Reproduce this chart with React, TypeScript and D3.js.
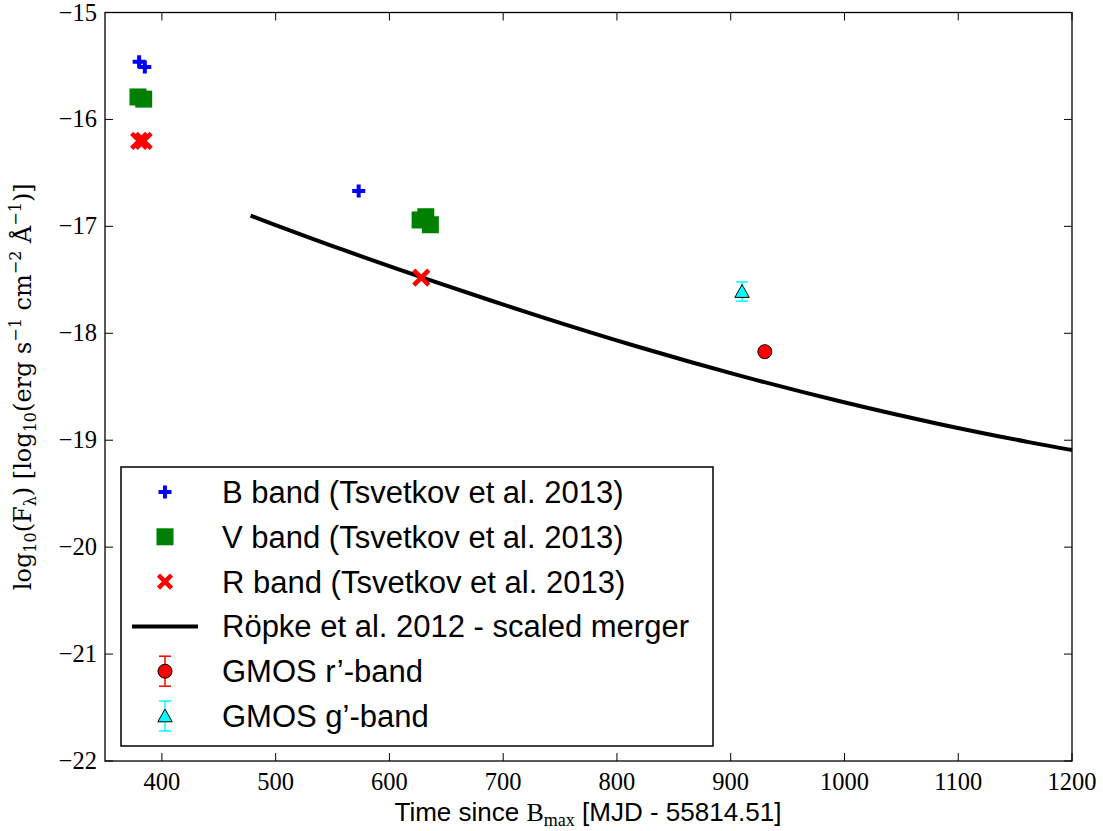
import React from "react";
import * as d3 from "d3";

const bBand = [
  { t: 380, f: -15.46 },
  { t: 385, f: -15.51 },
  { t: 573, f: -16.67 },
];
const vBand = [
  { t: 379, f: -15.79 },
  { t: 384, f: -15.81 },
  { t: 627, f: -16.94 },
  { t: 632, f: -16.91 },
  { t: 636, f: -16.985 },
];
const rBand = [
  { t: 380, f: -16.2 },
  { t: 384, f: -16.2 },
  { t: 628, f: -17.48 },
];
const mergerT = [478, 557, 644, 732, 820, 908, 996, 1084, 1172, 1200];
const mergerF = [-16.9, -17.215, -17.535, -17.845, -18.135, -18.4, -18.64, -18.855, -19.04, -19.092];
const gmosR = [{ t: 930, f: -18.172, err: 0.03 }];
const gmosG = [{ t: 910, f: -17.61, err: 0.09 }];
const xTicks = [400, 500, 600, 700, 800, 900, 1000, 1100, 1200];
const yTicks = [-15, -16, -17, -18, -19, -20, -21, -22];
const legendLabels = [
  "B band (Tsvetkov et al. 2013)",
  "V band (Tsvetkov et al. 2013)",
  "R band (Tsvetkov et al. 2013)",
  "Röpke et al. 2012 - scaled merger",
  "GMOS r’-band",
  "GMOS g’-band",
];

const L = 105, R = 1072, T = 12.5, B = 761;
const SANS = "'Liberation Sans', Arial, Helvetica, sans-serif";
const SERIF = "'Liberation Serif', 'Times New Roman', serif";
const WSERIF = "'DejaVu Serif', serif";

const x = d3.scaleLinear().domain([350, 1200]).range([L, R]);
const y = d3.scaleLinear().domain([-15, -22]).range([T, B]);

const plusPath = (s: number) => `M${-s},0H${s}M0,${-s}V${s}`;
const crossPath = (s: number) => `M${-s},${-s}L${s},${s}M${-s},${s}L${s},${-s}`;
const triPath = (s: number) => `M0,${-s}L${s * 0.9},${s * 0.6}L${-s * 0.9},${s * 0.6}Z`;

function Plus({ cx, cy }: { cx: number; cy: number }) {
  return <path d={plusPath(6.5)} transform={`translate(${cx},${cy})`} stroke="#0000ff" strokeWidth={4} fill="none" />;
}
function Square({ cx, cy, s }: { cx: number; cy: number; s: number }) {
  return <rect x={cx - s / 2} y={cy - s / 2} width={s} height={s} fill="#008000" />;
}
function Cross({ cx, cy, s }: { cx: number; cy: number; s: number }) {
  return <path d={crossPath(s)} transform={`translate(${cx},${cy})`} stroke="#ff0000" strokeWidth={4.5} fill="none" />;
}
function Circ({ cx, cy }: { cx: number; cy: number }) {
  return <circle cx={cx} cy={cy} r={7} fill="#ff0000" stroke="#000" strokeWidth={1} />;
}
function Tri({ cx, cy }: { cx: number; cy: number }) {
  return <path d={triPath(8)} transform={`translate(${cx},${cy + 1})`} fill="#00ffff" stroke="#000" strokeWidth={1} />;
}
function ErrBar({ cx, y1, y2, color }: { cx: number; y1: number; y2: number; color: string }) {
  return (
    <g stroke={color} strokeWidth={1.5}>
      <line x1={cx} x2={cx} y1={y1} y2={y2} />
      <line x1={cx - 6} x2={cx + 6} y1={y1} y2={y1} />
      <line x1={cx - 6} x2={cx + 6} y1={y2} y2={y2} />
    </g>
  );
}

export default function App() {
  const line = d3
    .line<number>()
    .x((_, i) => x(mergerT[i]))
    .y((d) => y(d))
    .curve(d3.curveBasis);

  const legX = 121, legY = 467, legW = 592, legH = 279;
  const rowY = (i: number) => 492 + i * 44.8;
  const mX = 165;

  return (
    <svg width={1103} height={831} style={{ position: "absolute", left: 0, top: 0, background: "#fff" }}>
      <rect x={0} y={0} width={1103} height={831} fill="#fff" />
      <path d={line(mergerF) || ""} fill="none" stroke="#000" strokeWidth={4} />
      {vBand.map((d, i) => (
        <Square key={"v" + i} cx={x(d.t)} cy={y(d.f)} s={17} />
      ))}
      {bBand.map((d, i) => (
        <Plus key={"b" + i} cx={x(d.t)} cy={y(d.f)} />
      ))}
      {rBand.map((d, i) => (
        <Cross key={"r" + i} cx={x(d.t)} cy={y(d.f)} s={7.5} />
      ))}
      {gmosR.map((d, i) => (
        <g key={"gr" + i}>
          <ErrBar cx={x(d.t)} y1={y(d.f + d.err)} y2={y(d.f - d.err)} color="#ff0000" />
          <Circ cx={x(d.t)} cy={y(d.f)} />
        </g>
      ))}
      {gmosG.map((d, i) => (
        <g key={"gg" + i}>
          <ErrBar cx={x(d.t)} y1={y(d.f + d.err)} y2={y(d.f - d.err)} color="#00ffff" />
          <Tri cx={x(d.t)} cy={y(d.f)} />
        </g>
      ))}

      <rect x={L} y={T} width={R - L} height={B - T} fill="none" stroke="#000" strokeWidth={1.3} />
      {xTicks.map((t) => (
        <g key={"xt" + t}>
          <line x1={x(t)} x2={x(t)} y1={B} y2={B - 8} stroke="#000" strokeWidth={1} />
          <line x1={x(t)} x2={x(t)} y1={T} y2={T + 8} stroke="#000" strokeWidth={1} />
          <text x={x(t)} y={790} textAnchor="middle" fontFamily={SERIF} fontSize={24.5} fill="#000">
            {t}
          </text>
        </g>
      ))}
      {yTicks.map((t) => (
        <g key={"yt" + t}>
          <line x1={L} x2={L + 8} y1={y(t)} y2={y(t)} stroke="#000" strokeWidth={1} />
          <line x1={R} x2={R - 8} y1={y(t)} y2={y(t)} stroke="#000" strokeWidth={1} />
          <text x={97} y={y(t) + 8} textAnchor="end" fontFamily={SERIF} fontSize={24.5} fill="#000">
            {"\u2212" + Math.abs(t)}
          </text>
        </g>
      ))}

      <text x={588} y={821} textAnchor="middle" fontFamily={SANS} fontSize={26} fill="#000">
        Time since{" "}
        <tspan fontFamily={SERIF}>B</tspan>
        <tspan fontFamily={SERIF} fontSize={18} dy={5}>max</tspan>
        <tspan dy={-5}> [MJD - 55814.51]</tspan>
      </text>

      <text
        transform={`translate(31,${(T + B) / 2}) rotate(-90)`}
        textAnchor="middle"
        fontFamily={WSERIF}
        fontSize={24}
        fill="#000"
      >
        log<tspan fontSize={16} dy={5}>10</tspan>
        <tspan dy={-5}>(F</tspan>
        <tspan fontSize={16} dy={5}>λ</tspan>
        <tspan dy={-5}>) [log</tspan>
        <tspan fontSize={16} dy={5}>10</tspan>
        <tspan dy={-5}>(erg s</tspan>
        <tspan fontSize={16} dy={-10}>−1</tspan>
        <tspan dy={10}> cm</tspan>
        <tspan fontSize={16} dy={-10}>−2</tspan>
        <tspan dy={10}> Å</tspan>
        <tspan fontSize={16} dy={-10}>−1</tspan>
        <tspan dy={10}>)]</tspan>
      </text>

      <rect x={legX} y={legY} width={legW} height={legH} fill="#fff" stroke="#000" strokeWidth={1.5} />
      <Plus cx={mX} cy={rowY(0)} />
      <Square cx={mX} cy={rowY(1)} s={17} />
      <Cross cx={mX} cy={rowY(2)} s={6.5} />
      <line x1={132} x2={198} y1={rowY(3)} y2={rowY(3)} stroke="#000" strokeWidth={4} />
      <ErrBar cx={mX} y1={rowY(4) - 15} y2={rowY(4) + 15} color="#ff0000" />
      <Circ cx={mX} cy={rowY(4)} />
      <ErrBar cx={mX} y1={rowY(5) - 15} y2={rowY(5) + 15} color="#00ffff" />
      <Tri cx={mX} cy={rowY(5)} />
      {legendLabels.map((lab, i) => (
        <text key={lab} x={222} y={rowY(i) + 11} fontFamily={SANS} fontSize={31} fill="#000">
          {lab}
        </text>
      ))}
    </svg>
  );
}
